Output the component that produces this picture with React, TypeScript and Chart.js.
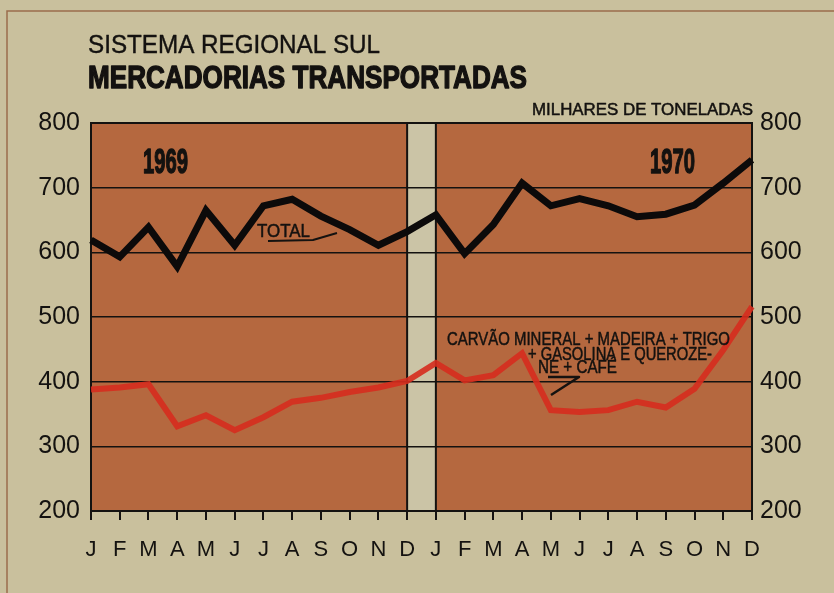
import React, { useEffect, useRef } from "react";
import { Chart, registerables } from "chart.js";

Chart.register(...registerables);

const MONTHS = ["J","F","M","A","M","J","J","A","S","O","N","D","J","F","M","A","M","J","J","A","S","O","N","D"];
const TOTAL = [619,593,639,578,665,611,672,682,656,635,611,632,658,598,643,707,672,683,672,655,659,673,707,743];
const CARGAS = [388,391,396,331,348,325,345,369,375,384,391,401,429,402,410,444,356,353,356,369,360,389,449,516];
const Y_MIN = 200;
const Y_MAX = 800;
const Y_STEP = 100;

const TITLE_1 = "SISTEMA REGIONAL SUL";
const TITLE_2 = "MERCADORIAS TRANSPORTADAS";
const UNIT = "MILHARES DE TONELADAS";
const YEAR_1 = "1969";
const YEAR_2 = "1970";
const LABEL_TOTAL = "TOTAL";
const LABEL_CARGAS = ["CARVÃO MINERAL + MADEIRA + TRIGO", "+ GASOLINA E QUEROZE-", "NE + CAFÉ"];

const FONT = '"Liberation Sans", Arial, sans-serif';
const PAGE_BG = "#c9c09d";
const PLOT_BG = "#b5683f";
const BAND_BG = "#cbc4a6";
const INK = "#141210";

function fitText(ctx: CanvasRenderingContext2D, text: string, x: number, y: number, width: number, font: string, stroke = 0) {
  ctx.save();
  ctx.font = font;
  ctx.textBaseline = "alphabetic";
  ctx.textAlign = "left";
  const w = ctx.measureText(text).width;
  ctx.translate(x, y);
  ctx.scale(width / w, 1);
  ctx.fillStyle = INK;
  ctx.fillText(text, 0, 0);
  if (stroke > 0) {
    ctx.strokeStyle = INK;
    ctx.lineWidth = stroke;
    ctx.lineJoin = "round";
    ctx.strokeText(text, 0, 0);
  }
  ctx.restore();
}

const decorPlugin = {
  id: "decor",
  beforeDraw(chart: any) {
    const { ctx, chartArea: a, scales } = chart;
    ctx.save();
    ctx.fillStyle = PAGE_BG;
    ctx.fillRect(0, 0, chart.width, chart.height);
    ctx.fillStyle = PLOT_BG;
    ctx.fillRect(a.left, a.top, a.right - a.left, a.bottom - a.top);
    const x1 = scales.x.getPixelForValue(11);
    const x2 = scales.x.getPixelForValue(12);
    ctx.fillStyle = BAND_BG;
    ctx.fillRect(x1, a.top, x2 - x1, a.bottom - a.top);
    ctx.restore();
  },
  beforeDatasetsDraw(chart: any) {
    const { ctx, chartArea: a, scales } = chart;
    const x1 = scales.x.getPixelForValue(11);
    const x2 = scales.x.getPixelForValue(12);
    ctx.save();
    ctx.strokeStyle = INK;
    ctx.lineWidth = 2;
    ctx.beginPath();
    ctx.moveTo(x1, a.top);
    ctx.lineTo(x1, a.bottom);
    ctx.moveTo(x2, a.top);
    ctx.lineTo(x2, a.bottom);
    ctx.stroke();
    ctx.strokeRect(a.left, a.top, a.right - a.left, a.bottom - a.top);
    ctx.restore();
  },
  afterDraw(chart: any) {
    const { ctx } = chart;
    ctx.save();
    ctx.strokeStyle = "#9a6c4c";
    ctx.lineWidth = 1.5;
    ctx.beginPath();
    ctx.moveTo(834, 11);
    ctx.lineTo(7, 11);
    ctx.lineTo(7, 593);
    ctx.stroke();

    fitText(ctx, TITLE_1, 88, 53, 292, `25px ${FONT}`, 0.4);
    fitText(ctx, TITLE_2, 88, 88, 439, `bold 32px ${FONT}`, 1.4);
    fitText(ctx, UNIT, 532, 115, 221, `16px ${FONT}`, 0.5);
    fitText(ctx, YEAR_1, 143, 173, 45, `bold 35px ${FONT}`, 1.4);
    fitText(ctx, YEAR_2, 650, 173, 45, `bold 35px ${FONT}`, 1.4);
    fitText(ctx, LABEL_TOTAL, 257, 237, 53, `18px ${FONT}`, 0.5);
    fitText(ctx, LABEL_CARGAS[0], 447, 345, 283, `18px ${FONT}`, 0.5);
    fitText(ctx, LABEL_CARGAS[1], 528, 360, 184, `18px ${FONT}`, 0.5);
    fitText(ctx, LABEL_CARGAS[2], 538, 373, 79, `18px ${FONT}`, 0.5);

    ctx.strokeStyle = INK;
    ctx.lineWidth = 2;
    ctx.lineJoin = "round";
    ctx.beginPath();
    ctx.moveTo(268, 241);
    ctx.lineTo(313, 240);
    ctx.lineTo(337, 233);
    ctx.stroke();
    ctx.lineWidth = 2.5;
    ctx.beginPath();
    ctx.moveTo(548, 377);
    ctx.lineTo(579, 377);
    ctx.lineTo(551, 395);
    ctx.stroke();
    ctx.restore();
  },
};

export default function App() {
  const ref = useRef<HTMLCanvasElement | null>(null);
  useEffect(() => {
    document.body.style.margin = "0";
    document.body.style.background = PAGE_BG;
    const canvas = ref.current;
    if (!canvas) return;
    const chart = new Chart(canvas, {
      type: "line",
      data: {
        labels: MONTHS,
        datasets: [
          {
            label: "TOTAL",
            data: TOTAL,
            borderColor: "#0c0a0a",
            borderWidth: 7,
            pointRadius: 0,
            tension: 0,
            borderJoinStyle: "miter",
          },
          {
            label: "CARVÃO MINERAL + MADEIRA + TRIGO + GASOLINA E QUEROZENE + CAFÉ",
            data: CARGAS,
            borderColor: "rgba(214,44,30,0.9)",
            borderWidth: 6,
            pointRadius: 0,
            tension: 0,
          },
        ],
      },
      options: {
        animation: false,
        responsive: false,
        maintainAspectRatio: false,
        layout: { padding: { top: 123, left: 0, right: 0, bottom: 0 } },
        plugins: {
          legend: { display: false },
          title: { display: false },
          tooltip: { enabled: false },
        },
        scales: {
          x: {
            type: "category",
            offset: false,
            grid: {
              display: true,
              drawOnChartArea: false,
              drawTicks: true,
              tickLength: 9,
              color: INK,
              lineWidth: 2,
            },
            border: { display: true, color: INK, width: 2 },
            ticks: {
              color: INK,
              font: { family: FONT, size: 22 },
              padding: 17,
              maxRotation: 0,
              autoSkip: false,
            },
            afterFit: (s: any) => {
              s.height = 82;
            },
          },
          y: {
            position: "left",
            min: Y_MIN,
            max: Y_MAX,
            ticks: {
              stepSize: Y_STEP,
              color: INK,
              font: { family: FONT, size: 25 },
              padding: 11,
            },
            grid: { color: INK, lineWidth: 1.5, drawTicks: false },
            border: { display: true, color: INK, width: 2 },
            afterFit: (s: any) => {
              s.width = 91;
            },
          },
          y2: {
            position: "right",
            min: Y_MIN,
            max: Y_MAX,
            ticks: {
              stepSize: Y_STEP,
              color: INK,
              font: { family: FONT, size: 25 },
              padding: 8,
            },
            grid: { display: false, drawTicks: false },
            border: { display: true, color: INK, width: 2 },
            afterFit: (s: any) => {
              s.width = 82;
            },
          },
        },
      },
      plugins: [decorPlugin],
    } as any);
    return () => chart.destroy();
  }, []);
  return (
    <div style={{ width: 834, height: 593, background: PAGE_BG }}>
      <canvas ref={ref} width={834} height={593} style={{ display: "block", width: 834, height: 593 }} />
    </div>
  );
}
